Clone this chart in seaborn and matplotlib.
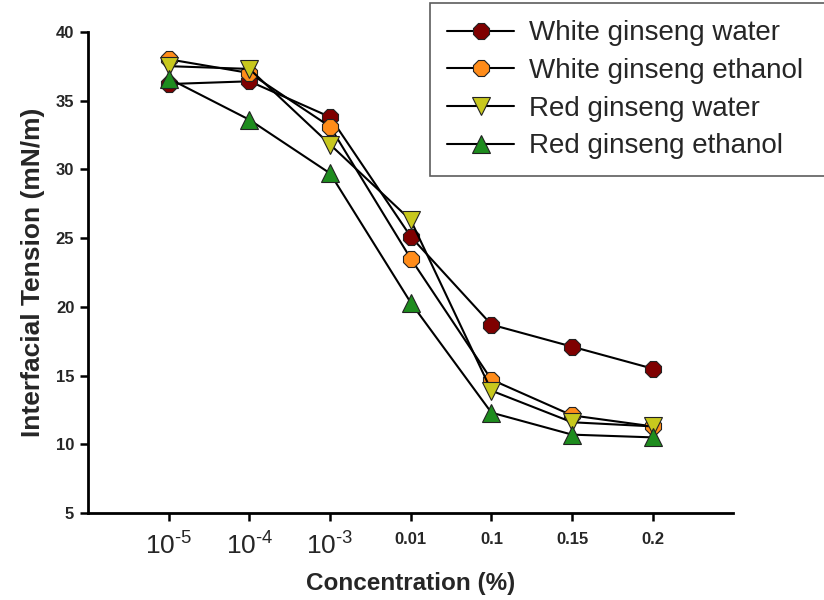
import matplotlib
matplotlib.use("Agg")
import matplotlib.pyplot as plt
import seaborn as sns
import pandas as pd

categories = ["1e-5", "1e-4", "1e-3", "0.01", "0.1", "0.15", "0.2"]
tick_labels = [r"$10^{\text{-}5}$", r"$10^{\text{-}4}$", r"$10^{\text{-}3}$", "0.01", "0.1", "0.15", "0.2"]
white_water = [36.2, 36.4, 33.8, 25.1, 18.7, 17.1, 15.5]
white_ethanol = [38.0, 37.0, 33.1, 23.5, 14.7, 12.1, 11.3]
red_water = [37.5, 37.3, 31.8, 26.3, 13.9, 11.6, 11.3]
red_ethanol = [36.6, 33.6, 29.7, 20.3, 12.3, 10.7, 10.5]
series_names = ["White ginseng water", "White ginseng ethanol", "Red ginseng water", "Red ginseng ethanol"]

sns.set_style("white")
plt.rcParams['font.family'] = ['Liberation Sans', 'DejaVu Sans']
plt.rcParams['mathtext.fontset'] = 'custom'
plt.rcParams['mathtext.rm'] = 'Liberation Sans'
plt.rcParams['mathtext.it'] = 'Liberation Sans'

fig = plt.figure(figsize=(8.24, 6), dpi=100)
ax = fig.add_axes([0.107, 0.145, 0.783, 0.802])

styles = [
    ("#7f0000", "8", 13),
    ("#ff8c1a", "8", 13),
    ("#c8c81e", "v", 13),
    ("#1e8c1e", "^", 13),
]
all_vals = [white_water, white_ethanol, red_water, red_ethanol]
for name, vals, (c, m, ms) in zip(series_names, all_vals, styles):
    df = pd.DataFrame({"x": categories, "y": vals})
    sns.lineplot(data=df, x="x", y="y", sort=False, ax=ax, color="black",
                 linewidth=1.5, marker=m, markersize=ms, markerfacecolor=c,
                 markeredgecolor="#222222", markeredgewidth=0.8, label=name)

ax.set_xlim(-1, 7)
ax.set_ylim(5, 40)
ax.set_yticks([5, 10, 15, 20, 25, 30, 35, 40])
ax.set_xticks(range(len(categories)))
ax.set_xticklabels(tick_labels)
for i, t in enumerate(ax.get_xticklabels()):
    if i < 3:
        t.set_fontsize(19)
    else:
        t.set_fontsize(12)
        t.set_fontweight("bold")
for t in ax.get_yticklabels():
    t.set_fontsize(12)
    t.set_fontweight("bold")

ax.tick_params(axis="y", direction="out", length=6, width=1.8, color="black",
               left=True, pad=4)
ax.tick_params(axis="x", direction="out", length=6, width=1.8, color="black",
               bottom=True, pad=8)
for s in ["top", "right"]:
    ax.spines[s].set_visible(False)
for s in ["left", "bottom"]:
    ax.spines[s].set_linewidth(2)
    ax.spines[s].set_color("black")

ax.set_xlabel("Concentration (%)", fontsize=17.5, fontweight="bold", labelpad=9)
ax.set_ylabel("Interfacial Tension (mN/m)", fontsize=19, fontweight="bold", labelpad=8)

leg = ax.legend(loc="upper left", bbox_to_anchor=(0.522, 0.70, 0.50, 0.295),
                bbox_transform=fig.transFigure, mode="expand",
                fontsize=20, frameon=True, fancybox=False, edgecolor="#333333",
                handlelength=2.4, borderpad=0.62, labelspacing=0.42, handletextpad=0.55,
                borderaxespad=0)
leg.get_frame().set_linewidth(1.2)

fig.savefig("out.png", dpi=100)
